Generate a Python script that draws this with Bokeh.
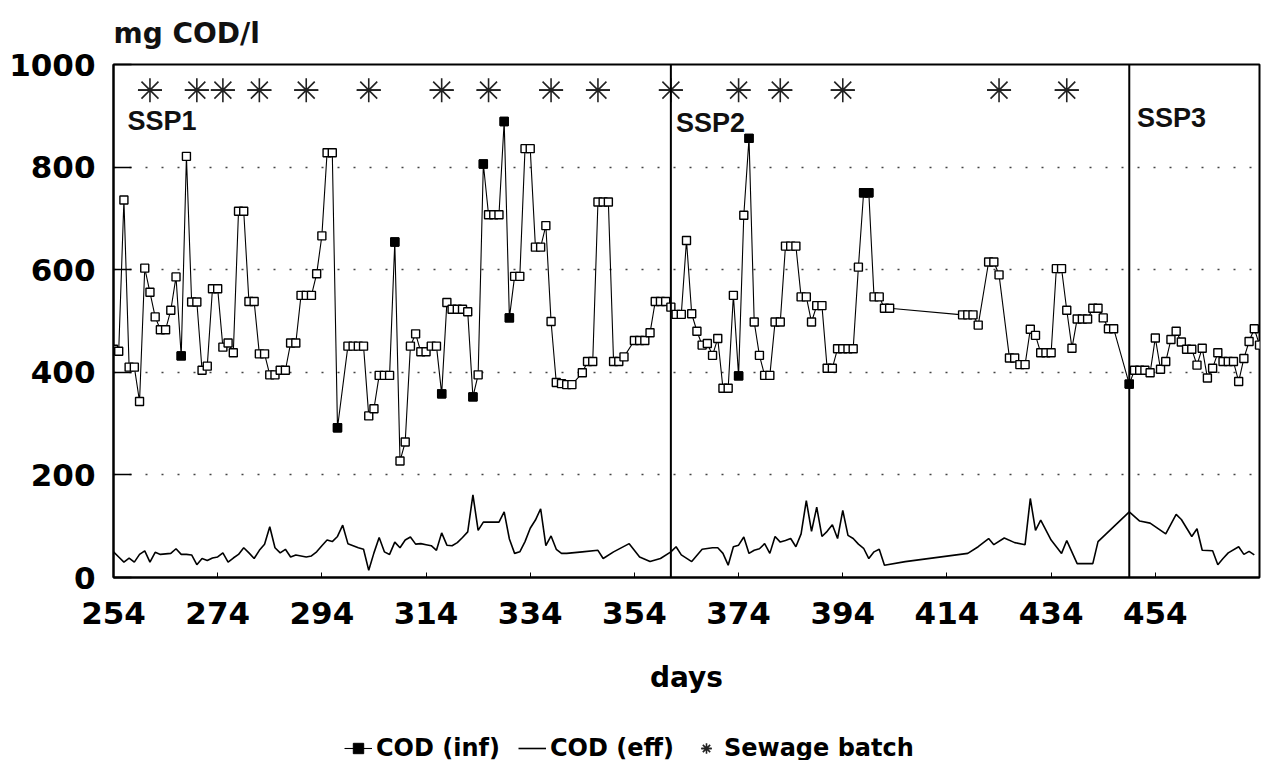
from bokeh.plotting import figure
from bokeh.layouts import column
from bokeh.models import (Span, Label, Legend, LegendItem, Range1d, FixedTicker,
                          ColumnDataSource)
from bokeh.embed import file_html
from bokeh.resources import INLINE

# ---------------- data ----------------
inf_days = [254, 255, 256, 257, 258, 259, 260, 261, 262, 263, 264, 265, 266, 267, 268,
            269, 270, 271, 272, 273, 274, 275, 276, 277, 278, 279, 280, 281, 282, 283,
            284, 285, 286, 287, 288, 289, 290, 291, 292, 293, 294, 295, 296, 297,
            299, 300, 301, 302, 303, 304, 305, 306, 307, 308, 309, 310, 311, 312, 313,
            314, 315, 316, 317, 318, 319, 320, 321, 322, 323, 324, 325, 326, 327, 328,
            329, 330, 331, 332, 333, 334, 335, 336, 337, 338, 339, 340, 341, 342,
            344, 345, 346, 347, 348, 349, 350, 351, 352, 354, 355, 356, 357, 358, 359,
            360, 361, 362, 363, 364, 365, 366, 367, 368, 369, 370, 371, 372, 373, 374,
            375, 376, 377, 378, 379, 380, 381, 382, 383, 384, 385, 386, 387, 388, 389,
            390, 391, 392, 393, 394, 395, 396, 397, 398, 399, 400, 401, 402, 403,
            417, 418, 419, 420, 422, 423, 424, 426, 427, 428, 429, 430, 431, 432, 433,
            434, 435, 436, 437, 438, 439, 440, 441, 442, 443, 444, 445, 446,
            449, 450, 451, 452, 453, 454, 455, 456, 457, 458, 459, 460, 461, 462, 463,
            464, 465, 466, 467, 468, 469, 470, 471, 472, 473, 474]
inf_vals = [445, 441, 736, 410, 410, 343, 603, 556, 508, 483, 483, 521, 586, 432, 821,
            537, 537, 404, 412, 563, 563, 449, 457, 438, 714, 714, 538, 538, 436, 436,
            395, 395, 404, 404, 457, 457, 550, 550, 550, 592, 666, 828, 828, 292,
            451, 451, 451, 451, 315, 329, 394, 394, 394, 654, 227, 264, 451, 475, 440,
            440, 451, 451, 358, 536, 523, 523, 523, 518, 352, 395, 806, 707, 707, 707,
            889, 506, 587, 587, 836, 836, 644, 644, 686, 499, 380, 378, 376, 376,
            399, 421, 421, 732, 732, 732, 421, 421, 430, 462, 462, 462, 477, 538, 538,
            538, 527, 513, 513, 657, 514, 480, 453, 456, 433, 466, 369, 369, 550, 393,
            706, 856, 498, 433, 394, 394, 498, 498, 646, 646, 646, 547, 547, 498, 530,
            530, 408, 408, 446, 446, 446, 446, 605, 750, 750, 547, 547, 525, 525,
            512, 512, 512, 492, 615, 615, 590, 428, 428, 415, 415, 484, 472, 438, 438,
            438, 602, 602, 521, 447, 504, 504, 504, 525, 525, 506, 485, 485,
            377, 404, 404, 404, 399, 467, 406, 421, 464, 480, 459, 445, 445, 414, 447,
            389, 408, 438, 421, 421, 421, 382, 427, 460, 485, 453]
inf_filled_days = [267, 297, 308, 317, 323, 325, 329, 330, 374, 376, 398, 399, 449]

eff_days = [254, 255, 256, 257, 258, 259, 260, 261, 262, 263, 264, 265, 266, 267, 268,
            269, 270, 271, 272, 273, 274, 275, 276, 277, 278, 279, 280, 281, 282, 283,
            284, 285, 286, 287, 288, 289, 290, 291, 292, 293, 294, 295, 296, 297, 298,
            299, 300, 301, 302, 303, 304, 305, 306, 307, 308, 309, 310, 311, 312, 313,
            314, 315, 316, 317, 318, 319, 320, 321, 322, 323, 324, 325, 326, 327, 328,
            329, 330, 331, 332, 333, 334, 335, 336, 337, 338, 339, 340, 341, 342, 344,
            347, 348, 350, 353, 355, 357, 359, 361, 362, 363, 365, 367, 369, 370, 371,
            372, 373, 374, 375, 376, 377, 378, 379, 380, 381, 382, 383, 384, 385, 386,
            387, 388, 389, 390, 391, 392, 393, 394, 395, 396, 397, 398, 399, 400, 401,
            402, 406, 418, 420, 422, 423, 425, 427, 429, 430, 431, 432, 434, 436, 437,
            439, 442, 443, 449, 451, 453, 456, 458, 459, 461, 462, 463, 465, 466, 467,
            468, 470, 471, 472, 473]
eff_vals = [50, 40, 30, 38, 30, 45, 52, 30, 49, 45, 46, 47, 56, 45, 45,
            44, 25, 37, 33, 38, 40, 48, 30, 38, 45, 58, 48, 37, 53, 65,
            99, 58, 48, 55, 40, 44, 42, 40, 42, 50, 62, 73, 70, 80, 102,
            66, 62, 58, 55, 14, 48, 78, 50, 45, 69, 58, 73, 79, 65, 66,
            64, 62, 53, 87, 63, 62, 68, 78, 89, 161, 92, 108, 108, 108, 108,
            128, 75, 47, 50, 70, 96, 112, 134, 62, 81, 55, 47, 47, 48, 50,
            53, 37, 50, 66, 40, 31, 37, 50, 60, 44, 31, 55, 58, 58, 47,
            24, 60, 63, 79, 47, 53, 56, 66, 47, 80, 69, 72, 76, 60, 85,
            150, 90, 137, 80, 90, 103, 76, 131, 82, 76, 65, 57, 37, 50, 55,
            24, 31, 47, 60, 76, 64, 77, 68, 64, 154, 92, 112, 73, 47, 72,
            27, 27, 70, 128, 110, 106, 85, 123, 113, 80, 95, 53, 52, 25, 37,
            48, 60, 45, 51, 44]

batch_days = [261, 270, 275, 282, 291, 303, 317, 326, 338, 347, 361, 374, 382, 394, 424, 437]
batch_level = [950] * len(batch_days)

phase_starts = [361, 449]
phase_labels = ["SSP1", "SSP2", "SSP3"]
phase_label_x = [256.7, 362, 450.5]
phase_label_y = [890, 886, 895]

x_ticks = [254, 274, 294, 314, 334, 354, 374, 394, 414, 434, 454]
y_ticks = [0, 200, 400, 600, 800, 1000]
grid_levels = [200, 400, 600, 800]

WIDE = "DejaVu Sans"
NARROW = "Liberation Sans"

# ---------------- main figure ----------------
p = figure(frame_width=1146, frame_height=513, output_backend="svg", toolbar_location=None,
           x_range=Range1d(254, 474), y_range=Range1d(0, 1000),
           min_border_left=113, min_border_right=4, min_border_top=62,
           min_border_bottom=150, background_fill_color="white",
           border_fill_color="white")

p.title.text = "mg COD/l"
p.title.align = "left"
p.title.text_font = WIDE
p.title.text_font_size = "28px"
p.title.text_font_style = "bold"
p.title.text_color = "#111111"
p.title.text_line_height = 1.0
p.title.standoff = 29

p.outline_line_color = "black"
p.outline_line_width = 2

p.xgrid.visible = False
p.ygrid.ticker = FixedTicker(ticks=grid_levels)
p.ygrid.grid_line_color = "#444444"
p.ygrid.grid_line_dash = "2 14"
p.ygrid.grid_line_width = 1.5

xa = p.xaxis[0]
xa.ticker = FixedTicker(ticks=x_ticks)
xa.major_tick_in = 5
xa.major_tick_out = 0
xa.minor_tick_line_color = None
xa.axis_line_width = 2
xa.major_label_standoff = 24
xa.major_label_text_font = WIDE
xa.major_label_text_font_size = "31px"
xa.major_label_text_font_style = "bold"
xa.major_label_text_color = "black"
xa.axis_label = "days"
xa.axis_label_text_font = WIDE
xa.axis_label_text_font_size = "28px"
xa.axis_label_text_font_style = "bold"
xa.axis_label_text_color = "black"
xa.axis_label_standoff = 34

ya = p.yaxis[0]
ya.ticker = FixedTicker(ticks=y_ticks)
ya.major_tick_in = 18
ya.major_tick_out = 0
ya.major_tick_line_width = 1.5
ya.minor_tick_line_color = None
ya.axis_line_width = 2
ya.major_label_standoff = 18
ya.major_label_text_font = WIDE
ya.major_label_text_font_size = "31px"
ya.major_label_text_font_style = "bold"
ya.major_label_text_color = "black"

for d in phase_starts:
    p.add_layout(Span(location=d, dimension="height", line_color="black", line_width=2))

INF_STYLE = dict(line_color="black", line_width=1.1)
EFF_STYLE = dict(line_color="black", line_width=1.6)
BAT_STYLE = dict(size=24, line_color="#222222", line_width=1.6)

eff_src = ColumnDataSource(dict(x=eff_days, y=eff_vals))
p.line("x", "y", source=eff_src, **EFF_STYLE)

inf_src = ColumnDataSource(dict(x=inf_days, y=inf_vals))
p.line("x", "y", source=inf_src, **INF_STYLE)
p.scatter("x", "y", source=inf_src, marker="square", size=8,
          fill_color="white", line_color="black", line_width=1.4)
fx = [d for d in inf_days if d in inf_filled_days]
fy = [v for d, v in zip(inf_days, inf_vals) if d in inf_filled_days]
p.scatter(fx, fy, marker="square", size=8, fill_color="black",
          line_color="black", line_width=1.4)

p.scatter(batch_days, batch_level, marker="asterisk", **BAT_STYLE)
p.scatter(batch_days, batch_level, marker="dash", **BAT_STYLE)

for t, x, y in zip(phase_labels, phase_label_x, phase_label_y):
    p.add_layout(Label(x=x, y=y, text=t, text_font=NARROW, text_font_size="27px",
                       text_font_style="bold", text_baseline="middle",
                       text_color="#111111"))

# ---------------- legend strip ----------------
lg = figure(width=1263, height=35, output_backend="svg", toolbar_location=None,
            x_range=Range1d(0, 1), y_range=Range1d(0, 1),
            x_axis_location=None, y_axis_location=None,
            min_border=0, outline_line_color=None,
            background_fill_color="white", border_fill_color="white")
lg.grid.visible = False
# one off-screen sample per key so that the legend can draw each key's glyph
key_src = ColumnDataSource(dict(x=[-5.0], y=[-5.0]))
r_inf_l = lg.line("x", "y", source=key_src, **INF_STYLE)
r_inf_m = lg.scatter("x", "y", source=key_src, marker="square", size=8,
                     fill_color="black", line_color="black")
r_eff = lg.line("x", "y", source=key_src, **EFF_STYLE)
r_b1 = lg.scatter("x", "y", source=key_src, marker="asterisk", **BAT_STYLE)
r_b2 = lg.scatter("x", "y", source=key_src, marker="dash", **BAT_STYLE)

legend = Legend(items=[
    LegendItem(label="COD (inf)", renderers=[r_inf_l, r_inf_m]),
    LegendItem(label="COD (eff)", renderers=[r_eff]),
    LegendItem(label="Sewage batch", renderers=[r_b1, r_b2]),
], orientation="horizontal", location=(231, 0),
    label_text_font=WIDE, label_text_font_size="24px", label_text_font_style="bold",
    label_text_color="black",
    border_line_color=None, background_fill_alpha=0, glyph_width=28, glyph_height=26,
    spacing=18, label_standoff=4, margin=0, padding=2)
lg.add_layout(legend)

layout = column(p, lg, spacing=0)
open("out.html", "w").write(file_html(layout, INLINE))
